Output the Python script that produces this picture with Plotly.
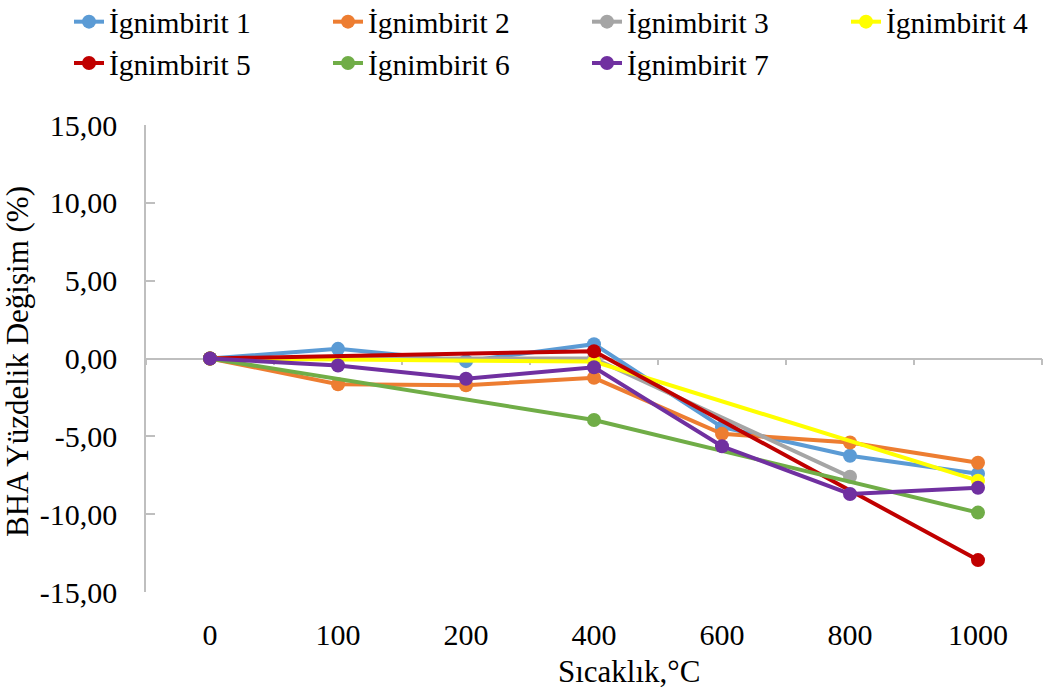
import plotly.graph_objects as go

# Temperature steps (categorical x axis)
temps = ["0", "100", "200", "400", "600", "800", "1000"]

# Percentage change of BHA for each ignimbrite sample (None = not measured)
ign1 = [0.00, 0.62, -0.17, 0.92, -4.41, -6.25, -7.40]
ign2 = [0.00, -1.65, -1.72, -1.24, -4.84, -5.40, -6.70]
ign3 = [0.00, None, None, 0.00, None, -7.60, None]
ign4 = [0.00, None, None, -0.20, None, None, -7.85]
ign5 = [0.00, None, None, 0.47, None, None, -12.95]
ign6 = [0.00, None, None, -3.95, None, None, -9.90]
ign7 = [0.00, -0.45, -1.30, -0.56, -5.64, -8.70, -8.30]

names = ["İgnimbirit 1", "İgnimbirit 2", "İgnimbirit 3", "İgnimbirit 4",
         "İgnimbirit 5", "İgnimbirit 6", "İgnimbirit 7"]
colors = ["#5B9BD5", "#ED7D31", "#A5A5A5", "#FFFF00",
          "#C00000", "#70AD47", "#7030A0"]
series = [ign1, ign2, ign3, ign4, ign5, ign6, ign7]

y_ticks = [-15, -10, -5, 0, 5, 10, 15]
y_labels = [f"{v:.2f}".replace(".", ",") for v in y_ticks]

FONT = "Liberation Serif, Times New Roman, serif"
AXIS_GREY = "#BFBFBF"

# plot-area geometry in pixels
W, H = 1062, 694
ML, MR, MT, MB = 146, 20, 125, 102
PW, PH = W - ML - MR, H - MT - MB


def px_x(px):
    return (px - ML) / PW


def px_y(py):
    return (H - MB - py) / PH


fig = go.Figure()

# invisible helper trace so the zero-level axis knows the categories
fig.add_trace(go.Scatter(x=temps, y=[0] * len(temps), xaxis="x2", yaxis="y",
                         mode="lines", opacity=0, showlegend=False,
                         hoverinfo="skip"))

for name, color, vals in zip(names, colors, series):
    fig.add_trace(go.Scatter(
        x=temps, y=vals, name=name, mode="lines+markers",
        connectgaps=True,
        line=dict(color=color, width=4),
        marker=dict(color=color, size=14, line=dict(width=0)),
    ))

fig.update_layout(
    width=W, height=H,
    margin=dict(l=ML, r=MR, t=MT, b=MB, autoexpand=False),
    paper_bgcolor="white", plot_bgcolor="white",
    font=dict(family=FONT, color="black", size=30),
    legend=dict(
        orientation="h", xref="paper", yref="paper",
        x=px_x(69), y=px_y(-4), xanchor="left", yanchor="top",
        font=dict(size=29.5), entrywidth=214, entrywidthmode="pixels",
        bgcolor="rgba(0,0,0,0)", tracegroupgap=0,
    ),
    xaxis=dict(
        type="category", range=[-0.5, 6.5],
        showline=False, showgrid=False, zeroline=False, ticks="",
        tickfont=dict(size=30), ticklabelstandoff=22,
    ),
    xaxis2=dict(
        type="category", overlaying="x", anchor="free", position=0.5,
        range=[-0.5, 6.5], tickson="boundaries", ticks="outside",
        ticklen=6, tickwidth=1.5, tickcolor=AXIS_GREY,
        showline=True, linecolor=AXIS_GREY, linewidth=1.5,
        showticklabels=False, showgrid=False, zeroline=False,
        layer="below traces",
    ),
    yaxis=dict(
        range=[-15, 15], tickvals=y_ticks, ticktext=y_labels,
        showgrid=False, zeroline=False,
        showline=True, linecolor=AXIS_GREY, linewidth=1.5,
        ticks="inside", ticklen=9, tickwidth=1.5, tickcolor=AXIS_GREY,
        tickfont=dict(size=30), ticklabelstandoff=21,
    ),
    annotations=[
        dict(text="Sıcaklık,°C", xref="paper", yref="paper",
             x=px_x(629), y=px_y(671), xanchor="center",
             yanchor="middle", showarrow=False, font=dict(size=31)),
        dict(text="BHA Yüzdelik Değişim (%)", xref="paper", yref="paper",
             x=px_x(17), y=px_y(362), xanchor="center",
             yanchor="middle", textangle=-90, showarrow=False,
             font=dict(size=31)),
    ],
)

fig.write_html("out.html")
